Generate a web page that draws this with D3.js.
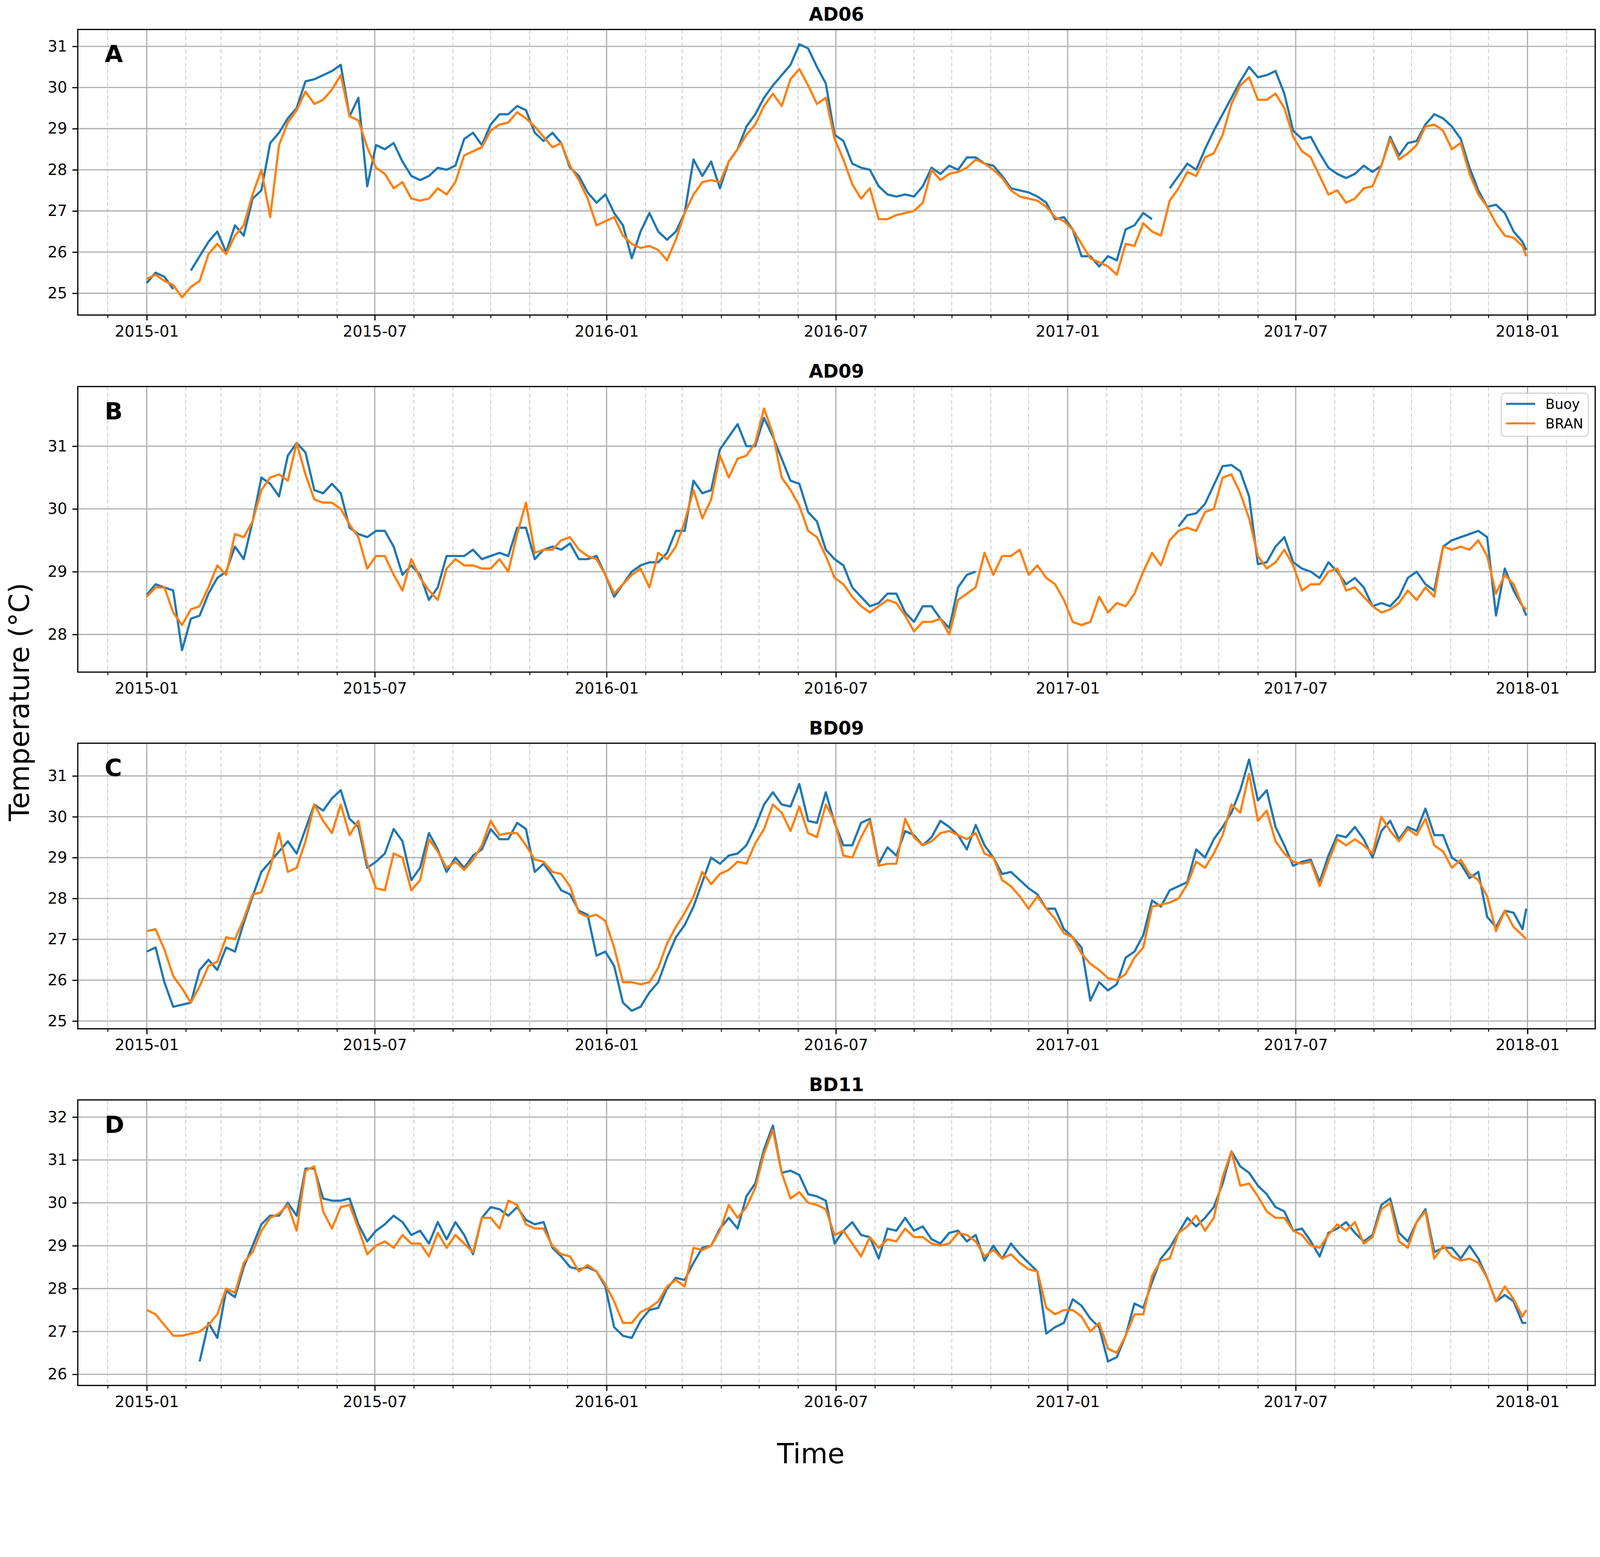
<!DOCTYPE html>
<html>
<head>
<meta charset="utf-8">
<script src="https://cdnjs.cloudflare.com/ajax/libs/d3/7.8.5/d3.min.js"></script>
<style>
  html, body { margin: 0; padding: 0; background: #ffffff; overflow: hidden; }
  text { font-family: "DejaVu Sans", "Liberation Sans", sans-serif; }
</style>
</head>
<body>
<svg id="chart"></svg>
<script>
// ---- data: weekly readings from 2015-01-01, last value on 2017-12-31 ----
var stations = ["AD06", "AD09", "BD09", "BD11"];
var letters = ["A", "B", "C", "D"];
var seriesNames = ["Buoy", "BRAN"];
var yTickLabels = [[25, 26, 27, 28, 29, 30, 31], [28, 29, 30, 31], [25, 26, 27, 28, 29, 30, 31], [26, 27, 28, 29, 30, 31, 32]];
var yLimits = [[24.47, 31.41], [27.40, 31.95], [24.81, 31.80], [25.74, 32.40]];

var ad06Buoy = [
  25.25, 25.5, 25.4, 25.1, null, 25.55, 25.9, 26.25, 26.5, 26.0,
  26.65, 26.4, 27.3, 27.5, 28.65, 28.9, 29.25, 29.5, 30.15, 30.2,
  30.3, 30.4, 30.55, 29.3, 29.75, 27.6, 28.6, 28.5, 28.65, 28.2,
  27.85, 27.75, 27.85, 28.05, 28.0, 28.1, 28.75, 28.9, 28.6, 29.1,
  29.35, 29.35, 29.55, 29.45, 28.9, 28.7, 28.9, 28.65, 28.05, 27.85,
  27.45, 27.2, 27.4, 26.95, 26.65, 25.85, 26.5, 26.95, 26.5, 26.3,
  26.5, 26.95, 28.25, 27.85, 28.2, 27.55, 28.2, 28.5, 29.05, 29.35,
  29.75, 30.05, 30.3, 30.55, 31.05, 30.95, 30.5, 30.1, 28.85, 28.7,
  28.15, 28.05, 28.0, 27.6, 27.4, 27.35, 27.4, 27.35, 27.6, 28.05,
  27.9, 28.1, 28.0, 28.3, 28.3, 28.15, 28.1, 27.85, 27.55, 27.5,
  27.45, 27.35, 27.2, 26.8, 26.85, 26.55, 25.9, 25.9, 25.65, 25.9,
  25.8, 26.55, 26.65, 26.95, 26.8, null, 27.55, 27.85, 28.15, 28.0,
  28.5, 28.95, 29.35, 29.75, 30.15, 30.5, 30.25, 30.3, 30.4, 29.85,
  28.95, 28.75, 28.8, 28.4, 28.05, 27.9, 27.8, 27.9, 28.1, 27.95,
  28.1, 28.8, 28.35, 28.65, 28.7, 29.1, 29.35, 29.25, 29.05, 28.75,
  28.05, 27.5, 27.1, 27.15, 26.95, 26.5, 26.25,
  26.05
];
var ad06Bran = [
  25.35, 25.45, 25.3, 25.2, 24.9, 25.15, 25.3, 25.95, 26.2, 25.95,
  26.4, 26.65, 27.4, 28.0, 26.85, 28.6, 29.15, 29.45, 29.9, 29.6,
  29.7, 29.95, 30.3, 29.3, 29.2, 28.55, 28.05, 27.9, 27.55, 27.7,
  27.3, 27.25, 27.3, 27.55, 27.4, 27.7, 28.35, 28.45, 28.55, 28.95,
  29.1, 29.15, 29.4, 29.25, 29.05, 28.8, 28.55, 28.65, 28.1, 27.75,
  27.3, 26.65, 26.75, 26.85, 26.4, 26.2, 26.1, 26.15, 26.05, 25.8,
  26.3, 26.95, 27.4, 27.7, 27.75, 27.7, 28.2, 28.5, 28.85, 29.1,
  29.55, 29.85, 29.55, 30.2, 30.45, 30.05, 29.6, 29.75, 28.75, 28.25,
  27.65, 27.3, 27.55, 26.8, 26.8, 26.9, 26.95, 27.0, 27.2, 28.0,
  27.75, 27.9, 27.95, 28.05, 28.25, 28.15, 28.0, 27.8, 27.5, 27.35,
  27.3, 27.25, 27.1, 26.85, 26.75, 26.55, 26.2, 25.85, 25.75, 25.65,
  25.45, 26.2, 26.15, 26.7, 26.5, 26.4, 27.25, 27.55, 27.95, 27.85,
  28.3, 28.4, 28.85, 29.6, 30.05, 30.25, 29.7, 29.7, 29.85, 29.5,
  28.8, 28.45, 28.3, 27.85, 27.4, 27.5, 27.2, 27.3, 27.55, 27.6,
  28.1, 28.75, 28.25, 28.4, 28.6, 29.05, 29.1, 28.95, 28.5, 28.65,
  27.9, 27.4, 27.1, 26.7, 26.4, 26.35, 26.15,
  25.9
];
var ad09Buoy = [
  28.63, 28.8, 28.75, 28.7, 27.75, 28.25, 28.3, 28.65, 28.9, 29.0,
  29.4, 29.2, 29.8, 30.5, 30.4, 30.2, 30.85, 31.05, 30.9, 30.3,
  30.25, 30.4, 30.25, 29.7, 29.6, 29.55, 29.65, 29.65, 29.4, 28.95,
  29.1, 28.95, 28.55, 28.75, 29.25, 29.25, 29.25, 29.35, 29.2, 29.25,
  29.3, 29.25, 29.7, 29.7, 29.2, 29.35, 29.4, 29.35, 29.45, 29.2,
  29.2, 29.25, 28.95, 28.6, 28.8, 29.0, 29.1, 29.15, 29.15, 29.3,
  29.65, 29.65, 30.45, 30.25, 30.3, 30.95, 31.15, 31.35, 31.0, 31.0,
  31.45, 31.15, 30.8, 30.45, 30.4, 29.95, 29.8, 29.35, 29.2, 29.1,
  28.75, 28.6, 28.45, 28.5, 28.65, 28.65, 28.35, 28.2, 28.45, 28.45,
  28.25, 28.1, 28.75, 28.95, 29.0, null, null, null, null, null,
  null, null, null, null, null, null, null, null, null, null,
  null, null, null, null, null, null, null, 29.72, 29.9, 29.93,
  30.08, 30.38, 30.68, 30.7, 30.6, 30.2, 29.12, 29.15, 29.4, 29.55,
  29.15, 29.05, 29.0, 28.9, 29.15, 29.0, 28.8, 28.9, 28.75, 28.45,
  28.5, 28.45, 28.6, 28.9, 29.0, 28.8, 28.7, 29.4, 29.5, 29.55,
  29.6, 29.65, 29.55, 28.3, 29.05, 28.7, 28.45,
  28.3
];
var ad09Bran = [
  28.6, 28.75, 28.75, 28.35, 28.15, 28.4, 28.45, 28.75, 29.1, 28.95,
  29.6, 29.55, 29.8, 30.3, 30.5, 30.55, 30.45, 31.05, 30.55, 30.15,
  30.1, 30.1, 30.0, 29.75, 29.55, 29.05, 29.25, 29.25, 28.95, 28.7,
  29.2, 28.9, 28.7, 28.55, 29.05, 29.2, 29.1, 29.1, 29.05, 29.05,
  29.2, 29.0, 29.6, 30.1, 29.3, 29.35, 29.35, 29.5, 29.55, 29.35,
  29.25, 29.2, 28.95, 28.65, 28.8, 28.95, 29.05, 28.75, 29.3, 29.2,
  29.4, 29.8, 30.3, 29.85, 30.15, 30.85, 30.5, 30.8, 30.85, 31.05,
  31.6, 31.2, 30.5, 30.3, 30.05, 29.65, 29.55, 29.25, 28.9, 28.8,
  28.6, 28.45, 28.35, 28.45, 28.55, 28.5, 28.3, 28.05, 28.2, 28.2,
  28.25, 28.0, 28.55, 28.65, 28.75, 29.3, 28.95, 29.25, 29.25, 29.35,
  28.95, 29.1, 28.9, 28.8, 28.55, 28.2, 28.15, 28.2, 28.6, 28.35,
  28.5, 28.45, 28.65, 29.0, 29.3, 29.1, 29.5, 29.65, 29.7, 29.65,
  29.95, 30.0, 30.5, 30.55, 30.25, 29.85, 29.25, 29.05, 29.15, 29.35,
  29.1, 28.7, 28.8, 28.8, 29.0, 29.05, 28.7, 28.75, 28.6, 28.45,
  28.35, 28.4, 28.5, 28.7, 28.55, 28.75, 28.6, 29.4, 29.35, 29.4,
  29.35, 29.5, 29.25, 28.65, 28.95, 28.8, 28.45,
  28.4
];
var bd09Buoy = [
  26.7, 26.8, 25.95, 25.35, 25.4, 25.45, 26.25, 26.5, 26.25, 26.8,
  26.7, 27.4, 28.05, 28.65, 28.9, 29.15, 29.4, 29.1, 29.7, 30.3,
  30.15, 30.45, 30.65, 29.95, 29.75, 28.75, 28.9, 29.1, 29.7, 29.4,
  28.45, 28.75, 29.6, 29.2, 28.65, 29.0, 28.75, 29.05, 29.2, 29.7,
  29.45, 29.45, 29.85, 29.7, 28.65, 28.85, 28.55, 28.2, 28.1, 27.7,
  27.6, 26.6, 26.7, 26.35, 25.45, 25.25, 25.35, 25.7, 25.95, 26.55,
  27.05, 27.35, 27.8, 28.4, 29.0, 28.85, 29.05, 29.1, 29.3, 29.75,
  30.3, 30.6, 30.3, 30.25, 30.8, 29.9, 29.85, 30.6, 29.85, 29.3,
  29.3, 29.85, 29.95, 28.85, 29.25, 29.05, 29.65, 29.55, 29.3, 29.5,
  29.9, 29.75, 29.55, 29.2, 29.8, 29.3, 29.0, 28.6, 28.65, 28.45,
  28.25, 28.1, 27.75, 27.75, 27.25, 27.05, 26.8, 25.5, 25.95, 25.75,
  25.9, 26.55, 26.7, 27.1, 27.95, 27.8, 28.2, 28.3, 28.4, 29.2,
  29.0, 29.45, 29.75, 30.1, 30.65, 31.4, 30.4, 30.65, 29.75, 29.3,
  28.8, 28.9, 28.95, 28.4, 29.05, 29.55, 29.5, 29.75, 29.45, 29.0,
  29.65, 29.9, 29.45, 29.75, 29.65, 30.2, 29.55, 29.55, 29.0, 28.85,
  28.5, 28.65, 27.55, 27.3, 27.7, 27.65, 27.25,
  27.75
];
var bd09Bran = [
  27.2, 27.25, 26.75, 26.1, 25.8, 25.45, 25.85, 26.35, 26.45, 27.05,
  27.0, 27.5, 28.1, 28.15, 28.75, 29.6, 28.65, 28.75, 29.4, 30.3,
  29.9, 29.6, 30.3, 29.55, 29.9, 28.85, 28.25, 28.2, 29.1, 29.0,
  28.2, 28.45, 29.45, 29.15, 28.75, 28.9, 28.7, 28.95, 29.3, 29.9,
  29.55, 29.6, 29.6, 29.3, 28.95, 28.9, 28.65, 28.6, 28.3, 27.65,
  27.55, 27.6, 27.45, 26.8, 25.95, 25.95, 25.9, 25.95, 26.3, 26.9,
  27.3, 27.65, 28.05, 28.65, 28.35, 28.6, 28.7, 28.9, 28.85, 29.35,
  29.7, 30.3, 30.1, 29.65, 30.25, 29.6, 29.5, 30.3, 29.9, 29.05,
  29.0, 29.5, 29.9, 28.8, 28.85, 28.85, 29.95, 29.5, 29.3, 29.4,
  29.6, 29.65, 29.55, 29.45, 29.6, 29.1, 29.0, 28.45, 28.3, 28.05,
  27.75, 28.05, 27.75, 27.5, 27.15, 27.05, 26.65, 26.4, 26.25, 26.05,
  26.0, 26.15, 26.55, 26.8, 27.8, 27.85, 27.9, 28.0, 28.35, 28.9,
  28.75, 29.1, 29.55, 30.3, 30.1, 31.05, 29.9, 30.15, 29.4, 29.1,
  28.9, 28.85, 28.9, 28.3, 28.9, 29.45, 29.3, 29.45, 29.3, 29.1,
  30.0, 29.65, 29.4, 29.7, 29.55, 29.95, 29.3, 29.15, 28.75, 28.95,
  28.6, 28.45, 28.05, 27.2, 27.7, 27.3, 27.1,
  27.0
];
var bd11Buoy = [
  null, null, null, null, null, null, 26.3, 27.2, 26.85, 27.95,
  27.8, 28.5, 29.0, 29.5, 29.7, 29.7, 30.0, 29.7, 30.8, 30.8,
  30.1, 30.05, 30.05, 30.1, 29.5, 29.1, 29.35, 29.5, 29.7, 29.55,
  29.25, 29.35, 29.05, 29.55, 29.15, 29.55, 29.25, 28.8, 29.65, 29.9,
  29.85, 29.7, 29.9, 29.6, 29.5, 29.55, 28.95, 28.75, 28.5, 28.45,
  28.5, 28.4, 28.05, 27.1, 26.9, 26.85, 27.25, 27.5, 27.55, 28.0,
  28.25, 28.2, 28.6, 28.95, 29.0, 29.4, 29.65, 29.4, 30.15, 30.45,
  31.25, 31.8, 30.7, 30.75, 30.65, 30.2, 30.15, 30.05, 29.05, 29.35,
  29.55, 29.25, 29.2, 28.7, 29.4, 29.35, 29.65, 29.35, 29.45, 29.15,
  29.05, 29.3, 29.35, 29.1, 29.25, 28.65, 29.0, 28.7, 29.05, 28.8,
  28.6, 28.4, 26.95, 27.1, 27.2, 27.75, 27.6, 27.3, 27.1, 26.3,
  26.4, 26.9, 27.65, 27.55, 28.15, 28.7, 28.95, 29.3, 29.65, 29.45,
  29.65, 29.9, 30.45, 31.2, 30.85, 30.7, 30.4, 30.2, 29.9, 29.8,
  29.35, 29.4, 29.1, 28.75, 29.3, 29.4, 29.55, 29.3, 29.1, 29.25,
  29.95, 30.1, 29.3, 29.1, 29.55, 29.85, 28.85, 28.95, 28.95, 28.7,
  29.0, 28.7, 28.25, 27.7, 27.85, 27.7, 27.2,
  27.2
];
var bd11Bran = [
  27.5, 27.4, 27.15, 26.9, 26.9, 26.95, 27.0, 27.15, 27.4, 28.0,
  27.9, 28.6, 28.85, 29.35, 29.65, 29.75, 29.95, 29.35, 30.75, 30.85,
  29.8, 29.4, 29.9, 29.95, 29.4, 28.8, 29.0, 29.1, 28.95, 29.25,
  29.05, 29.05, 28.75, 29.3, 28.95, 29.25, 29.05, 28.85, 29.65, 29.65,
  29.4, 30.05, 29.95, 29.5, 29.4, 29.4, 29.0, 28.8, 28.75, 28.4,
  28.55, 28.4, 28.1, 27.7, 27.2, 27.2, 27.45, 27.55, 27.7, 28.05,
  28.2, 28.05, 28.95, 28.9, 29.0, 29.35, 29.95, 29.65, 29.9, 30.35,
  31.15, 31.7, 30.7, 30.1, 30.25, 30.0, 29.95, 29.85, 29.25, 29.35,
  29.05, 28.75, 29.2, 28.95, 29.15, 29.1, 29.4, 29.2, 29.2, 29.05,
  29.0, 29.05, 29.3, 29.25, 29.1, 28.75, 28.9, 28.7, 28.8, 28.6,
  28.45, 28.4, 27.55, 27.4, 27.5, 27.5, 27.35, 27.0, 27.2, 26.6,
  26.5, 26.9, 27.4, 27.4, 28.3, 28.65, 28.7, 29.3, 29.45, 29.7,
  29.35, 29.65, 30.6, 31.2, 30.4, 30.45, 30.15, 29.8, 29.65, 29.65,
  29.35, 29.25, 29.0, 28.95, 29.25, 29.5, 29.35, 29.55, 29.05, 29.2,
  29.85, 30.0, 29.1, 28.95, 29.55, 29.8, 28.7, 29.0, 28.75, 28.65,
  28.7, 28.6, 28.25, 27.7, 28.05, 27.75, 27.35,
  27.5
];

var buoyByPanel = [ad06Buoy, ad09Buoy, bd09Buoy, bd11Buoy];
var branByPanel = [ad06Bran, ad09Bran, bd09Bran, bd11Bran];

// sample dates: weekly from 2015-01-01 plus the last day of 2017
var firstDay = new Date(Date.UTC(2015, 0, 1));
var lastDay = new Date(Date.UTC(2017, 11, 31));
var dates = d3.range(157).map(function(i) { return d3.utcDay.offset(firstDay, 7 * i); });
dates.push(lastDay);

// ---- layout (drawn in a 4341 x 3987 user space, scaled to the window) ----
var width = 4341, height = 3987;
var left = 211, right = 4328;
var panelTops = [80, 1049, 2017, 2985];
var panelH = 775;
var colors = ["#1f77b4", "#ff7f0e"];

var svg = d3.select("#chart")
  .attr("viewBox", "0 0 " + width + " " + height)
  .attr("preserveAspectRatio", "xMidYMin meet")
  .style("width", "100vw")
  .style("height", "100vh")
  .style("display", "block");

svg.append("rect").attr("width", width).attr("height", height).attr("fill", "#ffffff");

// matplotlib-like 5% margin on the time axis
var span = lastDay - firstDay;
var xScale = d3.scaleUtc()
  .domain([new Date(+firstDay - span * 0.05), new Date(+lastDay + span * 0.05)])
  .range([left, right]);

var majorTicks = d3.utcMonth.every(6).range(xScale.domain()[0], xScale.domain()[1]);
var minorTicks = d3.utcMonth.range(xScale.domain()[0], xScale.domain()[1])
  .filter(function(d) { return d.getUTCMonth() !== 0 && d.getUTCMonth() !== 6; });
var fmt = d3.utcFormat("%Y-%m");

stations.forEach(function(name, p) {
  var top = panelTops[p], bottom = top + panelH;
  var g = svg.append("g");

  var yScale = d3.scaleLinear().domain(yLimits[p]).range([bottom, top]);

  // minor (monthly) dashed grid
  g.append("g").selectAll("line")
    .data(minorTicks).enter().append("line")
    .attr("x1", function(d) { return xScale(d); })
    .attr("x2", function(d) { return xScale(d); })
    .attr("y1", top).attr("y2", bottom)
    .attr("stroke", "#c4c4c4").attr("stroke-width", 2)
    .attr("stroke-dasharray", "11,7");

  // major grid
  g.append("g").selectAll("line")
    .data(majorTicks).enter().append("line")
    .attr("x1", function(d) { return xScale(d); })
    .attr("x2", function(d) { return xScale(d); })
    .attr("y1", top).attr("y2", bottom)
    .attr("stroke", "#b0b0b0").attr("stroke-width", 3.3);

  g.append("g").selectAll("line")
    .data(yTickLabels[p]).enter().append("line")
    .attr("x1", left).attr("x2", right)
    .attr("y1", function(d) { return yScale(d); })
    .attr("y2", function(d) { return yScale(d); })
    .attr("stroke", "#b0b0b0").attr("stroke-width", 3.3);

  // series lines, Buoy first then BRAN on top
  [buoyByPanel[p], branByPanel[p]].forEach(function(vals, s) {
    var pts = dates.map(function(d, i) { return { date: d, v: vals[i] }; });
    var line = d3.line()
      .defined(function(d) { return d.v != null; })
      .x(function(d) { return xScale(d.date); })
      .y(function(d) { return yScale(d.v); });
    g.append("path")
      .datum(pts)
      .attr("d", line)
      .attr("fill", "none")
      .attr("stroke", colors[s])
      .attr("stroke-width", 6)
      .attr("stroke-linejoin", "round")
      .attr("stroke-linecap", "butt");
  });

  // x axis (major + minor ticks)
  var xAxis = d3.axisBottom(xScale)
    .tickValues(majorTicks)
    .tickFormat(fmt)
    .tickSize(14.6)
    .tickPadding(14);
  var xAxisGroup = g.append("g")
    .attr("transform", "translate(0," + bottom + ")")
    .call(xAxis);
  xAxisGroup.select(".domain").remove();
  xAxisGroup.selectAll(".tick line").attr("stroke", "#000").attr("stroke-width", 3.3);
  xAxisGroup.selectAll(".tick text")
    .attr("font-size", 41.7)
    .attr("fill", "#000")
    .attr("font-family", "DejaVu Sans");

  var xMinor = d3.axisBottom(xScale)
    .tickValues(minorTicks)
    .tickFormat("")
    .tickSize(8.3);
  var xMinorGroup = g.append("g")
    .attr("transform", "translate(0," + bottom + ")")
    .call(xMinor);
  xMinorGroup.select(".domain").remove();
  xMinorGroup.selectAll(".tick line").attr("stroke", "#000").attr("stroke-width", 2.5);

  // y axis
  var yAxis = d3.axisLeft(yScale)
    .tickValues(yTickLabels[p])
    .tickFormat(d3.format("d"))
    .tickSize(14.6)
    .tickPadding(14);
  var yAxisGroup = g.append("g")
    .attr("transform", "translate(" + left + ",0)")
    .call(yAxis);
  yAxisGroup.select(".domain").remove();
  yAxisGroup.selectAll(".tick line").attr("stroke", "#000").attr("stroke-width", 3.3);
  yAxisGroup.selectAll(".tick text")
    .attr("font-size", 41.7)
    .attr("fill", "#000")
    .attr("font-family", "DejaVu Sans");

  // frame
  g.append("rect")
    .attr("x", left).attr("y", top)
    .attr("width", right - left).attr("height", panelH)
    .attr("fill", "none").attr("stroke", "#000").attr("stroke-width", 3.3);

  // title and panel letter
  g.append("text")
    .attr("x", (left + right) / 2).attr("y", top - 24)
    .attr("text-anchor", "middle")
    .attr("font-size", 50).attr("font-weight", "bold")
    .text(name);

  g.append("text")
    .attr("x", left + 73).attr("y", top + 89)
    .attr("font-size", 64).attr("font-weight", "bold")
    .text(letters[p]);

  // legend only on the AD09 panel
  if (p === 1) {
    var lg = g.append("g").attr("transform", "translate(" + (right - 255) + "," + (top + 18) + ")");
    lg.append("rect")
      .attr("width", 236).attr("height", 117).attr("rx", 10)
      .attr("fill", "#ffffff").attr("fill-opacity", 0.8)
      .attr("stroke", "#cccccc").attr("stroke-width", 2.5);
    seriesNames.forEach(function(n, i) {
      lg.append("line")
        .attr("x1", 13).attr("x2", 92)
        .attr("y1", 29 + i * 53).attr("y2", 29 + i * 53)
        .attr("stroke", colors[i]).attr("stroke-width", 5.5);
      lg.append("text")
        .attr("x", 120).attr("y", 43 + i * 53)
        .attr("font-size", 37)
        .text(n);
    });
  }
});

// shared axis labels
svg.append("text")
  .attr("transform", "translate(52,1905) rotate(-90)")
  .attr("text-anchor", "middle")
  .attr("dy", "0.35em")
  .attr("font-size", 75)
  .text("Temperature (°C)");

svg.append("text")
  .attr("x", 2200).attr("y", 3971)
  .attr("text-anchor", "middle")
  .attr("font-size", 75)
  .text("Time");
</script>
</body>
</html>
